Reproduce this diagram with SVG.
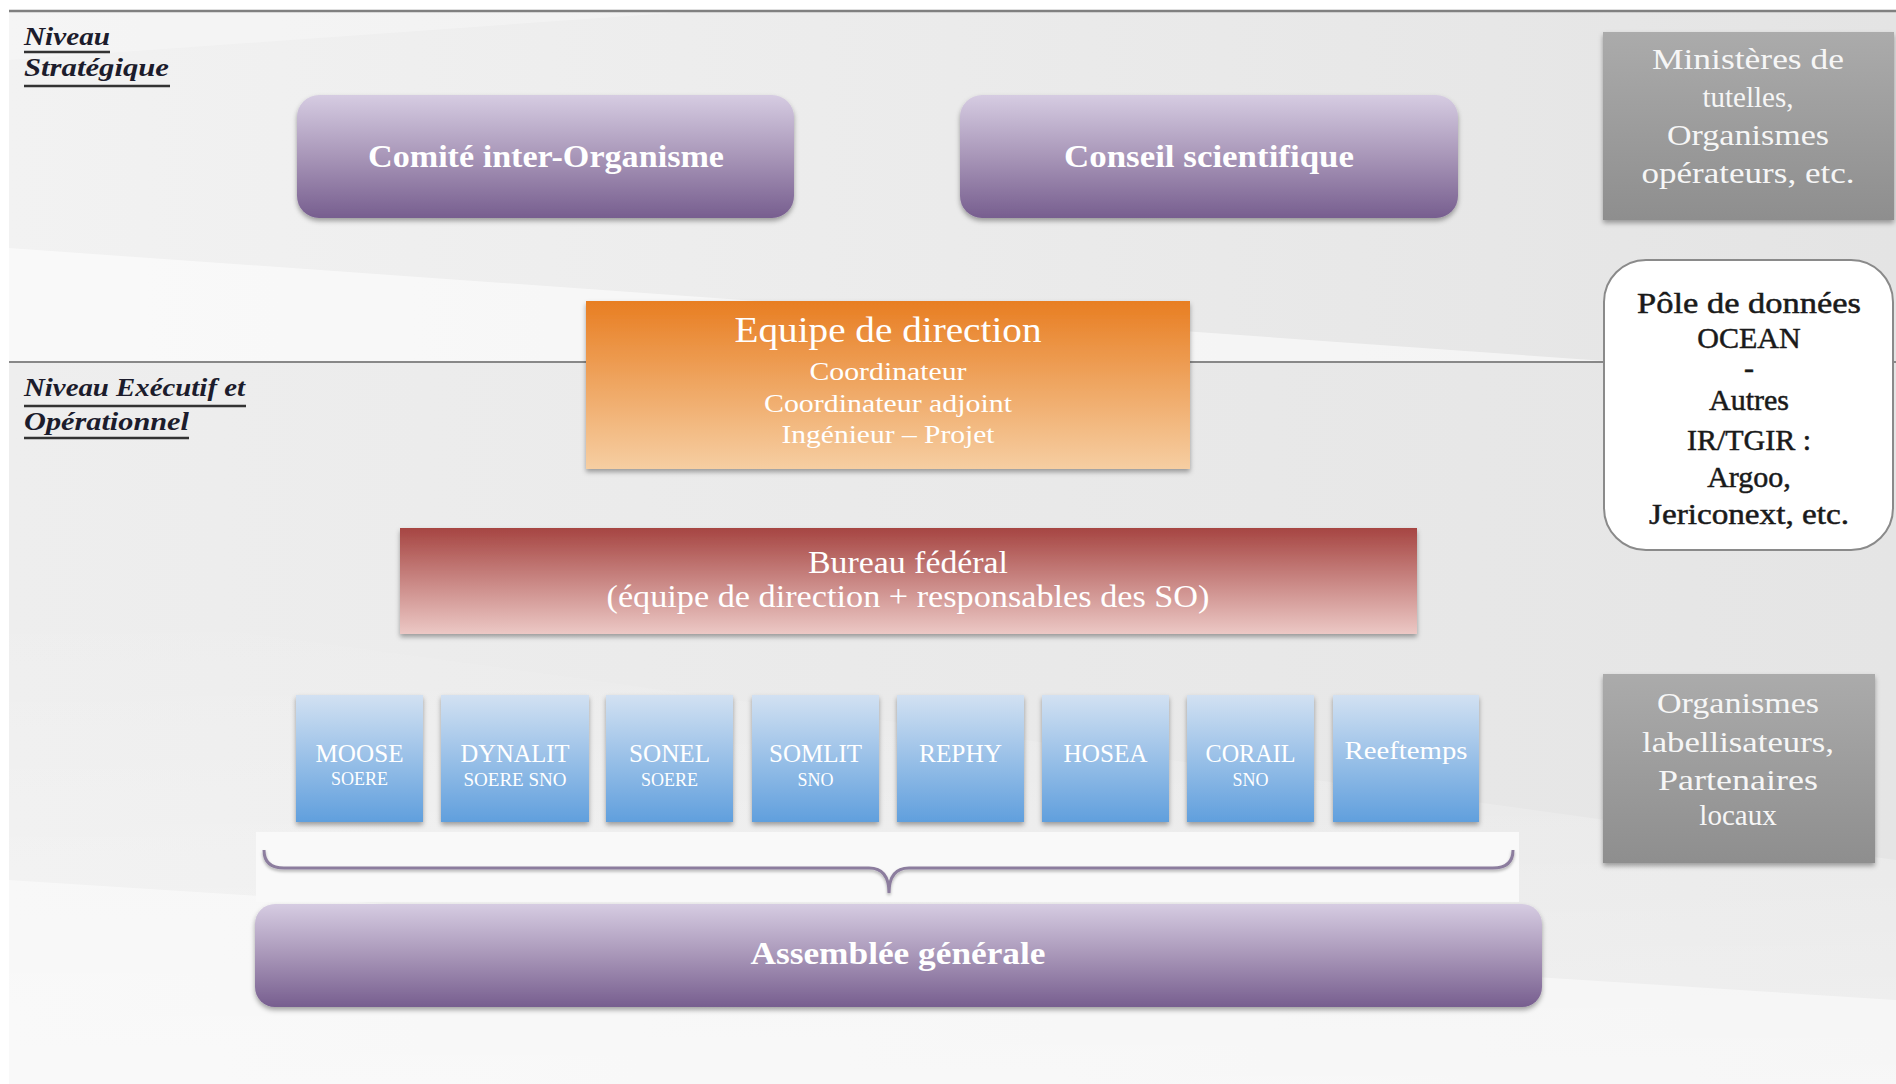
<svg xmlns="http://www.w3.org/2000/svg" width="1896" height="1084" viewBox="0 0 1896 1084">
<style>
.lvl{font-family:"Liberation Serif",serif;font-weight:bold;font-style:italic;font-size:26px;fill:#1c1c2c}
.ul{stroke:#333;stroke-width:2.5}
.pt{font-family:"Liberation Serif",serif;font-weight:bold;font-size:31px;fill:#fff;text-anchor:middle}
.gt{font-family:"Liberation Serif",serif;font-size:29px;fill:#f6f6f6;text-anchor:middle}
.dk{font-family:"Liberation Serif",serif;font-size:30px;fill:#1a1a1a;stroke:#1a1a1a;stroke-width:0.5;text-anchor:middle}
.wt{font-family:"Liberation Serif",serif;fill:#fff;text-anchor:middle}
.so{font-family:"Liberation Serif",serif;font-size:26px;fill:#fff;text-anchor:middle}
.ss{font-family:"Liberation Serif",serif;font-size:18px;fill:#fff;text-anchor:middle}
</style>
<defs>
<linearGradient id="gPurple" x1="0" y1="0" x2="0" y2="1"><stop offset="0" stop-color="#d6cce2"/><stop offset="0.5" stop-color="#a896b8"/><stop offset="1" stop-color="#775e8f"/></linearGradient>
<linearGradient id="gOrange" x1="0" y1="0" x2="0" y2="1"><stop offset="0" stop-color="#e87e22"/><stop offset="1" stop-color="#f6cea2"/></linearGradient>
<linearGradient id="gRed" x1="0" y1="0" x2="0" y2="1"><stop offset="0" stop-color="#a64542"/><stop offset="1" stop-color="#ecc8c5"/></linearGradient>
<linearGradient id="gBlue" x1="0" y1="0" x2="0" y2="1"><stop offset="0" stop-color="#d2e1f2"/><stop offset="1" stop-color="#609fdd"/></linearGradient>
<linearGradient id="gGrey" x1="0" y1="0" x2="0" y2="1"><stop offset="0" stop-color="#ababab"/><stop offset="1" stop-color="#8e8e8e"/></linearGradient>
<linearGradient id="gTop" x1="0" y1="0" x2="1" y2="0"><stop offset="0" stop-color="#f2f2f2"/><stop offset="1" stop-color="#e4e4e4"/></linearGradient>
<linearGradient id="gBot" x1="0" y1="0" x2="1" y2="0"><stop offset="0" stop-color="#eeeeee"/><stop offset="1" stop-color="#e5e5e5"/></linearGradient>
<linearGradient id="gFade" x1="0" y1="0" x2="0" y2="1"><stop offset="0" stop-color="#ffffff" stop-opacity="0"/><stop offset="1" stop-color="#ffffff" stop-opacity="0.7"/></linearGradient>
<filter id="sh" x="-5%" y="-10%" width="110%" height="130%"><feDropShadow dx="0" dy="3" stdDeviation="2.5" flood-color="#000" flood-opacity="0.35"/></filter>
<filter id="sh2" x="-5%" y="-50%" width="110%" height="200%"><feDropShadow dx="0" dy="2" stdDeviation="1.5" flood-color="#000" flood-opacity="0.3"/></filter>
</defs>

<!-- background -->
<rect x="0" y="0" width="1896" height="1084" fill="#ffffff"/>
<rect x="9" y="11" width="1887" height="351" fill="url(#gTop)"/>
<rect x="9" y="362" width="1887" height="722" fill="url(#gBot)"/>
<polygon points="9,248 1620,362 9,362" fill="#ffffff" opacity="0.55"/>
<polygon points="9,60 700,11 9,11" fill="#ffffff" opacity="0.25"/>
<polygon points="9,600 1896,860 1896,1084 9,1084" fill="url(#gFade)" opacity="0.6"/>
<polygon points="9,880 1896,1000 1896,1084 9,1084" fill="#ffffff" opacity="0.45"/>
<line x1="9" y1="11" x2="1896" y2="11" stroke="#808080" stroke-width="2.5"/>
<line x1="9" y1="362" x2="1896" y2="362" stroke="#888888" stroke-width="2"/>

<!-- level labels -->
<g id="level-strategique">
<text class="lvl" x="24" y="45" textLength="86" lengthAdjust="spacingAndGlyphs">Niveau</text>
<line class="ul" x1="24" y1="52" x2="110" y2="52"/>
<text class="lvl" x="24" y="76" textLength="145" lengthAdjust="spacingAndGlyphs">Stratégique</text>
<line class="ul" x1="24" y1="86" x2="170" y2="86"/>
</g>
<g id="level-executif">
<text class="lvl" x="24" y="396" textLength="221" lengthAdjust="spacingAndGlyphs">Niveau Exécutif et</text>
<line class="ul" x1="24" y1="406" x2="246" y2="406"/>
<text class="lvl" x="24" y="430" textLength="165" lengthAdjust="spacingAndGlyphs">Opérationnel</text>
<line class="ul" x1="24" y1="438" x2="189" y2="438"/>
</g>

<!-- connectors -->
<g id="connectors">
<rect x="256" y="832" width="1263" height="70" fill="#f9f9f9"/>
<path d="M264,850 Q264,868 284,868 L869,868 Q889,868 889,893 Q889,868 909,868 L1493,868 Q1513,868 1513,850" fill="none" stroke="#8c7d9e" stroke-width="3" filter="url(#sh2)"/>
</g>

<g id="comite">
<rect x="297" y="95" width="497" height="123" rx="22" fill="url(#gPurple)" filter="url(#sh)"/>
<text class="pt" x="546" y="167" textLength="356" lengthAdjust="spacingAndGlyphs">Comité inter-Organisme</text>
</g>
<g id="conseil">
<rect x="960" y="95" width="498" height="123" rx="22" fill="url(#gPurple)" filter="url(#sh)"/>
<text class="pt" x="1209" y="167" textLength="290" lengthAdjust="spacingAndGlyphs">Conseil scientifique</text>
</g>

<g id="ministeres">
<rect x="1603" y="32" width="291" height="188" fill="url(#gGrey)" filter="url(#sh)"/>
<text class="gt" x="1748" y="69" textLength="192" lengthAdjust="spacingAndGlyphs">Ministères  de</text>
<text class="gt" x="1748" y="107">tutelles,</text>
<text class="gt" x="1748" y="145" textLength="162" lengthAdjust="spacingAndGlyphs">Organismes</text>
<text class="gt" x="1748" y="183" textLength="213" lengthAdjust="spacingAndGlyphs">opérateurs, etc.</text>
</g>

<g id="pole">
<rect x="1604" y="260" width="289" height="290" rx="42" fill="#ffffff" stroke="#8a8a8a" stroke-width="2"/>
<text class="dk" x="1749" y="313" textLength="224" lengthAdjust="spacingAndGlyphs">Pôle de données</text>
<text class="dk" x="1749" y="348">OCEAN</text>
<text class="dk" x="1749" y="378" font-size="16">-</text>
<text class="dk" x="1749" y="410">Autres</text>
<text class="dk" x="1749" y="450">IR/TGIR :</text>
<text class="dk" x="1749" y="487">Argoo,</text>
<text class="dk" x="1749" y="524" textLength="200" lengthAdjust="spacingAndGlyphs">Jericonext, etc.</text>
</g>

<g id="equipe">
<rect x="586" y="301" width="604" height="168" fill="url(#gOrange)" filter="url(#sh)"/>
<text class="wt" x="888" y="342" font-size="36" textLength="307" lengthAdjust="spacingAndGlyphs">Equipe de direction</text>
<text class="wt" x="888" y="380" font-size="26" fill="#fdf0e2" textLength="157" lengthAdjust="spacingAndGlyphs">Coordinateur</text>
<text class="wt" x="888" y="412" font-size="26" fill="#fdf0e2" textLength="248" lengthAdjust="spacingAndGlyphs">Coordinateur adjoint</text>
<text class="wt" x="888" y="443" font-size="26" fill="#fdf0e2" textLength="213" lengthAdjust="spacingAndGlyphs">Ingénieur – Projet</text>
</g>

<g id="bureau">
<rect x="400" y="528" width="1017" height="106" fill="url(#gRed)" filter="url(#sh)"/>
<text class="wt" x="908" y="573" font-size="31" textLength="200" lengthAdjust="spacingAndGlyphs">Bureau fédéral</text>
<text class="wt" x="908" y="607" font-size="31" textLength="603" lengthAdjust="spacingAndGlyphs">(équipe de direction + responsables des SO)</text>
</g>

<g id="so-moose">
<rect x="296" y="695" width="127" height="127" fill="url(#gBlue)" filter="url(#sh)"/>
<text class="so" x="359.5" y="762" textLength="88" lengthAdjust="spacingAndGlyphs">MOOSE</text>
<text class="ss" x="359.5" y="785">SOERE</text>
</g>
<g id="so-dynalit">
<rect x="441" y="695" width="148" height="127" fill="url(#gBlue)" filter="url(#sh)"/>
<text class="so" x="515" y="762" textLength="109" lengthAdjust="spacingAndGlyphs">DYNALIT</text>
<text class="ss" x="515" y="786" textLength="103" lengthAdjust="spacingAndGlyphs">SOERE SNO</text>
</g>
<g id="so-sonel">
<rect x="606" y="695" width="127" height="127" fill="url(#gBlue)" filter="url(#sh)"/>
<text class="so" x="669.5" y="762" textLength="81" lengthAdjust="spacingAndGlyphs">SONEL</text>
<text class="ss" x="669.5" y="786">SOERE</text>
</g>
<g id="so-somlit">
<rect x="752" y="695" width="127" height="127" fill="url(#gBlue)" filter="url(#sh)"/>
<text class="so" x="815.5" y="762" textLength="93" lengthAdjust="spacingAndGlyphs">SOMLIT</text>
<text class="ss" x="815.5" y="786">SNO</text>
</g>
<g id="so-rephy">
<rect x="897" y="695" width="127" height="127" fill="url(#gBlue)" filter="url(#sh)"/>
<text class="so" x="960.5" y="762" textLength="83" lengthAdjust="spacingAndGlyphs">REPHY</text>
</g>
<g id="so-hosea">
<rect x="1042" y="695" width="127" height="127" fill="url(#gBlue)" filter="url(#sh)"/>
<text class="so" x="1105.5" y="762" textLength="84" lengthAdjust="spacingAndGlyphs">HOSEA</text>
</g>
<g id="so-corail">
<rect x="1187" y="695" width="127" height="127" fill="url(#gBlue)" filter="url(#sh)"/>
<text class="so" x="1250.5" y="762" textLength="90" lengthAdjust="spacingAndGlyphs">CORAIL</text>
<text class="ss" x="1250.5" y="786">SNO</text>
</g>
<g id="so-reeftemps">
<rect x="1333" y="695" width="146" height="127" fill="url(#gBlue)" filter="url(#sh)"/>
<text class="so" x="1406" y="759" textLength="123" lengthAdjust="spacingAndGlyphs">Reeftemps</text>
</g>

<g id="organismes">
<rect x="1603" y="674" width="272" height="189" fill="url(#gGrey)" filter="url(#sh)"/>
<text class="gt" x="1738" y="713" textLength="162" lengthAdjust="spacingAndGlyphs">Organismes</text>
<text class="gt" x="1738" y="752" textLength="192" lengthAdjust="spacingAndGlyphs">labellisateurs,</text>
<text class="gt" x="1738" y="790" textLength="160" lengthAdjust="spacingAndGlyphs">Partenaires</text>
<text class="gt" x="1738" y="825">locaux</text>
</g>

<g id="assemblee">
<rect x="255" y="904" width="1287" height="103" rx="20" fill="url(#gPurple)" filter="url(#sh)"/>
<text class="pt" x="898" y="964" textLength="295" lengthAdjust="spacingAndGlyphs">Assemblée générale</text>
</g>
</svg>
